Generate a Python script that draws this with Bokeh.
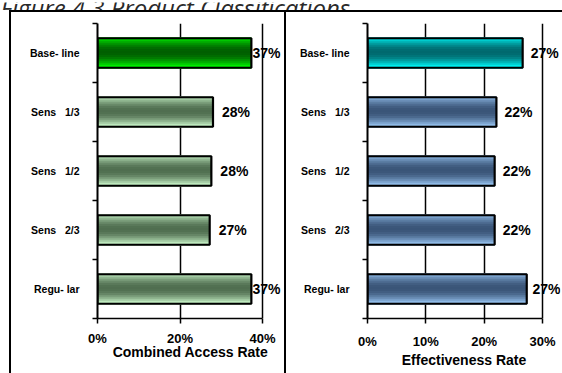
import math
from bokeh.plotting import figure
from bokeh.layouts import row, column
from bokeh.models import ColumnDataSource, Range1d, FixedTicker, PrintfTickFormatter, Spacer
from bokeh.core.properties import value
from bokeh.embed import file_html
from bokeh.resources import INLINE

# ---- data -------------------------------------------------------------
categories = ["Base- line", "Sens\u00a0\u00a0 1/3", "Sens\u00a0\u00a0 1/2", "Sens\u00a0\u00a0 2/3", "Regu- lar"]
access_rate = [37.3, 28.0, 27.6, 27.2, 37.3]          # Combined Access Rate, %
effectiveness_rate = [26.6, 22.1, 21.8, 21.8, 27.3]   # Effectiveness Rate, %
access_ticks = [0, 20, 40]
effect_ticks = [0, 10, 20, 30]
title_text = "Figure 4.3 Product Classifications"

FONT = "Liberation Sans"
W, H = 562, 373
RULE = 2         # thickness of the box rules
HEAD = 10        # heading strip above the top rule
TOP = HEAD + RULE
PANEL_H = H - TOP


def mix(a, b, f):
    return "#%02x%02x%02x" % tuple(int(round(a[i] + (b[i] - a[i]) * f)) for i in range(3))


def rule(width, height):
    """A plain black block, used for the box rules."""
    return Spacer(width=width, height=height, styles={"background-color": "black"})


def build(values, ticks, axis_title, hi_cols, lo_cols, width, frame_left, frame_right,
          frame_top, frame_bottom, tick_px, label_max_left, xoff, tick_standoff,
          title_standoff):
    n = len(categories)
    scale = tick_px / ticks[-1]                # pixels per percent
    x_end = (frame_right - frame_left) / scale
    p = figure(width=width, height=PANEL_H, output_backend="svg", toolbar_location=None,
               title=None,
               min_border_left=frame_left, min_border_right=width - frame_right,
               min_border_top=frame_top, min_border_bottom=PANEL_H - frame_bottom,
               background_fill_color="white", border_fill_color="white",
               outline_line_color=None,
               x_range=Range1d(0, x_end), y_range=Range1d(n, 0))

    # bars with a cylinder-like shading, built from thin horizontal strips
    strips = 15
    bar_h = 0.5
    ys, rights, cols = [], [], []
    for i, v in enumerate(values):
        edge, center = hi_cols if i == 0 else lo_cols
        for k in range(strips):
            t = (k + 0.5) / strips
            f = math.sin(math.pi * t) ** 0.9
            ys.append(i + 0.5 - bar_h / 2 + t * bar_h)
            rights.append(v)
            cols.append(mix(edge, center, f))
    p.hbar(y="y", left=0, right="right", height=bar_h / strips * 2.0, fill_color="color",
           line_color=None, source=ColumnDataSource(dict(y=ys, right=rights, color=cols)))
    centers = [i + 0.5 for i in range(n)]
    p.hbar(y=centers, left=0, right=values, height=bar_h, fill_color=None,
           line_color="black", line_width=2.2)

    # value labels
    offs = [min(xoff, label_max_left - v * scale) for v in values]
    p.text(x=values, y=centers, text=["%d%%" % round(v) for v in values], x_offset=offs,
           text_font=value(FONT), text_font_style="bold", text_font_size="14px",
           text_align="left", text_baseline="middle", text_color="black")

    # x axis
    xa = p.xaxis[0]
    xa.ticker = FixedTicker(ticks=ticks, minor_ticks=[])
    xa.formatter = PrintfTickFormatter(format="%d%%")
    xa.bounds = (ticks[0], ticks[-1])
    xa.axis_line_width = 1.5
    xa.major_tick_line_width = 1.5
    xa.major_tick_out = 5
    xa.major_tick_in = 0
    xa.minor_tick_out = 0
    xa.minor_tick_in = 0
    xa.major_label_standoff = tick_standoff
    xa.major_label_text_font = FONT
    xa.major_label_text_font_style = "bold"
    xa.major_label_text_font_size = "13px"
    xa.major_label_text_color = "black"
    xa.axis_label = axis_title
    xa.axis_label_standoff = title_standoff
    xa.axis_label_text_font = FONT
    xa.axis_label_text_font_style = "bold"
    xa.axis_label_text_font_size = "14px"
    xa.axis_label_text_color = "black"

    # y axis: labels at category centres, tick marks at category boundaries
    ya = p.yaxis[0]
    ya.ticker = FixedTicker(ticks=centers, minor_ticks=list(range(n + 1)))
    ya.major_label_overrides = {c: name for c, name in zip(centers, categories)}
    ya.major_tick_line_color = None
    ya.major_tick_out = 0
    ya.major_tick_in = 0
    ya.minor_tick_out = 5
    ya.minor_tick_in = 0
    ya.minor_tick_line_width = 1.5
    ya.minor_tick_line_color = "black"
    ya.axis_line_width = 2
    ya.major_label_standoff = 13
    ya.major_label_text_font = FONT
    ya.major_label_text_font_style = "bold"
    ya.major_label_text_font_size = "10.5px"
    ya.major_label_text_color = "black"

    p.xgrid.ticker = FixedTicker(ticks=ticks[1:])
    p.xgrid.grid_line_color = "black"
    p.xgrid.grid_line_width = 1.5
    p.ygrid.grid_line_color = None
    return p


# panel geometry (x from the left edge of each panel, y from the top of the panel row)
LEFT_X0 = 11
DIV_X0 = 284
RIGHT_X0 = DIV_X0 + RULE
left = build(access_rate, access_ticks, "Combined Access Rate",
             ((0, 255, 0), (0, 95, 0)), ((205, 250, 205), (80, 110, 80)),
             width=DIV_X0 - LEFT_X0, frame_left=97 - LEFT_X0, frame_right=283 - LEFT_X0,
             frame_top=20 - TOP, frame_bottom=325 - TOP,
             tick_px=165, label_max_left=155, xoff=9, tick_standoff=7, title_standoff=-5)
right = build(effectiveness_rate, effect_ticks, "Effectiveness Rate",
              ((0, 255, 255), (0, 105, 110)), ((155, 200, 245), (58, 85, 120)),
              width=W - RIGHT_X0, frame_left=367 - RIGHT_X0, frame_right=560 - RIGHT_X0,
              frame_top=23 - TOP, frame_bottom=318 - TOP,
              tick_px=175, label_max_left=165, xoff=8, tick_standoff=10, title_standoff=0)

# heading strip: the heading runs off the top edge
head = figure(width=W, height=HEAD, output_backend="svg", toolbar_location=None,
              title=None, x_axis_type=None, y_axis_type=None, min_border=0,
              background_fill_color="white", border_fill_color="white",
              outline_line_color=None, x_range=Range1d(0, W), y_range=Range1d(0, HEAD))
head.grid.visible = False
head.text(x=[0], y=[HEAD - 5], text=[title_text], text_font=value("Open Sans"),
          text_font_style="italic", text_font_size="24px", text_color="#2a2a2a",
          text_align="left", text_baseline="alphabetic")

top_rule = row(Spacer(width=LEFT_X0 - RULE, height=RULE), rule(W - LEFT_X0 + RULE, RULE))
panels = row(Spacer(width=LEFT_X0 - RULE, height=PANEL_H), rule(RULE, PANEL_H), left,
             rule(RULE, PANEL_H), right)
layout = column(head, top_rule, panels)
open("out.html", "w").write(file_html(layout, INLINE))
